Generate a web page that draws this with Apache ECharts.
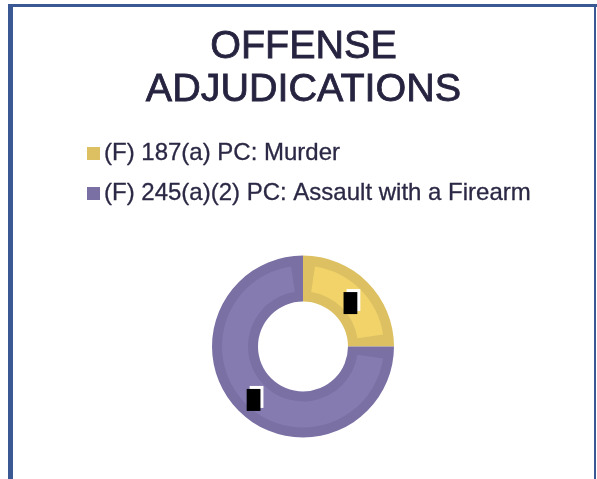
<!DOCTYPE html>
<html><head><meta charset="utf-8">
<script src="https://cdn.jsdelivr.net/npm/echarts@6/dist/echarts.min.js"></script>
<style>html,body{margin:0;padding:0;background:#fff}#c{width:597px;height:479px}</style>
</head><body><div id="c"></div>
<script>
const titleText = 'OFFENSE\nADJUDICATIONS';
const categories = ['(F) 187(a) PC: Murder', '(F) 245(a)(2) PC: Assault with a Firearm'];
const values = [1, 3];
const darkColors = ['#dcc062', '#7b70a4'];
const lightColors = ['#f1d36a', '#867bb1'];

const FONT = '"Liberation Sans", Arial, sans-serif';
const center = [303, 346.5];
const gapDeg = 8.5;
const total = values.reduce((a, b) => a + b, 0);
const clear = 'rgba(0,0,0,0)';

const darkData = values.map((v, i) => ({ value: v, name: categories[i], itemStyle: { color: darkColors[i] } }));
const lightData = [];
values.forEach((v, i) => {
  lightData.push({ value: gapDeg, name: 'gapA' + i, itemStyle: { color: clear } });
  lightData.push({ value: v / total * 360 - 2 * gapDeg, name: categories[i], itemStyle: { color: lightColors[i] } });
  lightData.push({ value: gapDeg, name: 'gapB' + i, itemStyle: { color: clear } });
});
const labelData = values.map((v, i) => ({ value: v, name: categories[i] }));

const chart = echarts.init(document.getElementById('c'), null, { renderer: 'canvas' });
chart.setOption({
  backgroundColor: '#ffffff',
  animation: false,
  title: {
    text: titleText,
    left: 303.5,
    top: 26,
    padding: 0,
    textAlign: 'center',
    textStyle: {
      fontFamily: FONT, fontSize: 39.5, fontWeight: 'normal', color: '#25233f', lineHeight: 43,
      textBorderColor: '#25233f', textBorderWidth: 0.8
    }
  },
  legend: {
    orient: 'vertical',
    left: 87,
    top: 141,
    padding: 0,
    itemGap: 15,
    itemWidth: 13,
    itemHeight: 13,
    icon: 'rect',
    selectedMode: false,
    data: categories,
    textStyle: {
      fontFamily: FONT, fontSize: 24, color: '#2a2844', lineHeight: 25, padding: [0, 0, 0, -1],
      textBorderColor: '#2a2844', textBorderWidth: 0.3
    }
  },
  graphic: [
    { type: 'rect', shape: { x: 8, y: 4, width: 5, height: 480 }, style: { fill: '#3a5894' }, silent: true },
    { type: 'rect', shape: { x: 8, y: 4, width: 589, height: 3 }, style: { fill: '#3a5894' }, silent: true },
    { type: 'rect', shape: { x: 594, y: 4, width: 2, height: 480 }, style: { fill: '#3a5894' }, silent: true }
  ],
  series: [
    {
      type: 'pie', name: 'dark', center: center, radius: [45, 91], startAngle: 90, clockwise: true,
      silent: true, itemStyle: { borderWidth: 0 }, label: { show: false }, labelLine: { show: false },
      emphasis: { disabled: true }, data: darkData, z: 2
    },
    {
      type: 'pie', name: 'light', center: center, radius: [55, 81], startAngle: 90, clockwise: true,
      silent: true, itemStyle: { borderWidth: 0 }, label: { show: false }, labelLine: { show: false },
      emphasis: { disabled: true }, legendHoverLink: false, data: lightData, z: 3
    },
    {
      type: 'pie', name: 'labels', center: center, radius: [45, 86], startAngle: 90, clockwise: true,
      silent: true, itemStyle: { color: clear, borderWidth: 0 }, labelLine: { show: false },
      emphasis: { disabled: true }, legendHoverLink: false, z: 4,
      label: {
        show: true, position: 'inside', formatter: '{c}', color: '#000', backgroundColor: '#000',
        fontFamily: FONT, fontSize: 14, lineHeight: 14, padding: [4, 3, 4, 3],
        shadowColor: '#ffffff', shadowBlur: 0, shadowOffsetX: 3, shadowOffsetY: -3
      },
      labelLayout: { dx: -1, dy: 5 },
      data: labelData
    }
  ]
});
</script>
</body></html>
